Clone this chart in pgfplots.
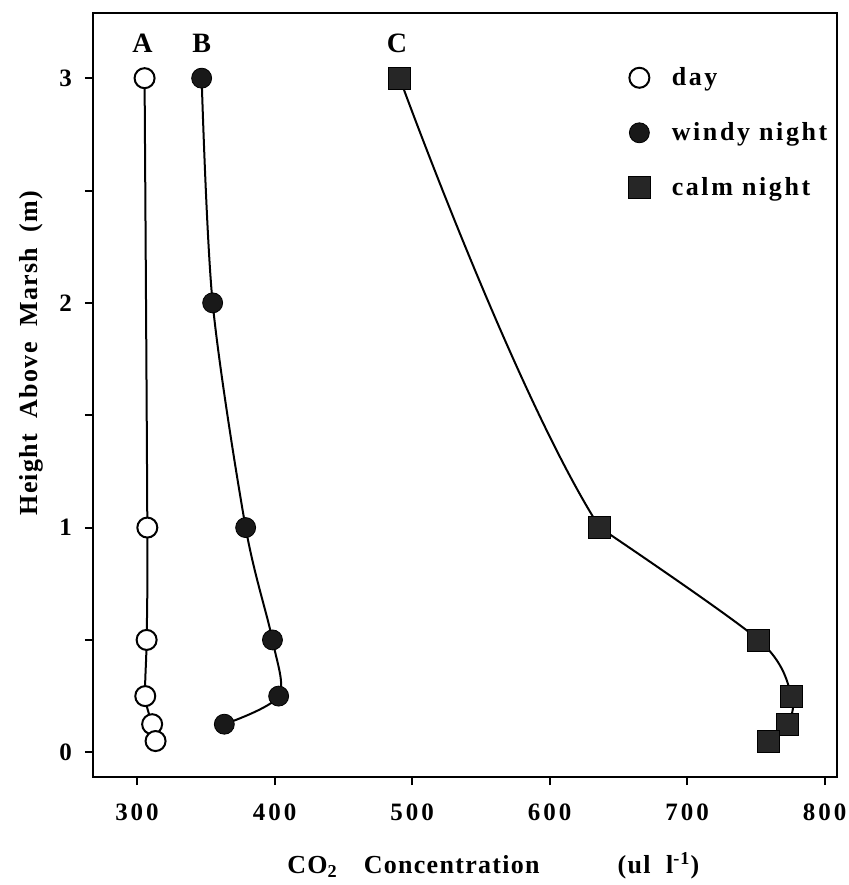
\documentclass[border=0pt]{standalone}
\usepackage{fontspec}
\setmainfont{Liberation Serif}[LetterSpace=5]
\usepackage{pgfplots}
\pgfplotsset{compat=1.18}
\pgfplotsset{
  markonly/.style={only marks,
    legend image code/.code={\draw[mark repeat=2, mark phase=2, ##1] plot coordinates {(0cm,0cm) (0.3cm,0cm) (0.6cm,0cm)};
      \path (0.3cm,0cm) ++(14pt,0pt);}},
}

\begin{document}
\begin{tikzpicture}[font=\bfseries]
\path[use as bounding box] (-46.5pt,-54pt) rectangle (377.5pt,388.5pt);
\begin{axis}[
  at={(0,0)}, anchor=south west,
  width=372pt, height=382pt, scale only axis,
  xmin=268, xmax=809, ymin=-0.11, ymax=3.29,
  xtick={300,400,...,800},
  ytick={0,0.5,...,3},
  yticklabels={0,{},1,{},2,{},3},
  xtick pos=bottom, ytick pos=left,
  tick align=outside, major tick length=4pt,
  axis line style={line width=1.3pt},
  tick style={line width=1pt, black},
  /pgf/number format/assume math mode=true,
  tick label style={font=\fontsize{12.5}{15}\selectfont\bfseries\addfontfeature{LetterSpace=12}},
  xticklabel style={yshift=-6pt},
  yticklabel style={xshift=-3pt},
  xlabel={CO\textsubscript{2}\quad Concentration\qquad\quad (ul\ \ l\textsuperscript{-1})},
  xlabel style={at={(axis description cs:0.538,-0.1165)}, anchor=center, font=\fontsize{13}{15}\selectfont\bfseries},
  ylabel={Height\ \ Above\ \ Marsh\ \ (m)},
  ylabel style={at={(axis description cs:-0.083,0.555)}, anchor=center, font=\fontsize{13}{15}\selectfont\bfseries},
  legend style={draw=none, fill=none, at={(0.711,0.94)}, anchor=north west,
    row sep=13pt, font=\fontsize{13}{15}\selectfont\bfseries\addfontfeature{LetterSpace=10}},
  legend cell align=left,
]
% connecting curves
\addplot[black, line width=1pt, smooth, forget plot] coordinates {
  (305.5,3) (307.5,1) (307,0.5) (306,0.25) (311,0.125) (313.5,0.05)
};
\addplot[black, line width=1pt, smooth, forget plot] coordinates {
  (347,3) (355,2) (379,1) (398.5,0.5) (403,0.25) (363.5,0.125)
};
% calm night: upper part (above 1 m) and lower part drawn separately
\begin{scope}
\clip (axis cs:268,1) rectangle (axis cs:809,3.29);
\addplot[black, line width=1pt, smooth, tension=0.85, forget plot] coordinates {
  (491,3) (636.5,1) (752,0.5)
};
\end{scope}
\addplot[black, line width=1pt, smooth, forget plot] coordinates {
  (636.5,1) (752,0.5) (776,0.25) (773,0.125) (759,0.05)
};
% markers
\addplot[markonly, mark=*, mark size=5pt, mark options={fill=white, draw=black, line width=1pt}] coordinates {
  (305.5,3) (307.5,1) (307,0.5) (306,0.25) (311,0.125) (313.5,0.05)
};
\addlegendentry{day}
\addplot[markonly, mark=*, mark size=5pt, mark options={fill=black!90, draw=black}] coordinates {
  (347,3) (355,2) (379,1) (398.5,0.5) (403,0.25) (363.5,0.125)
};
\addlegendentry{windy night}
\addplot[markonly, mark=square*, mark size=5.5pt, mark options={fill=black!85, draw=black}] coordinates {
  (491,3) (636.5,1) (752,0.5) (776,0.25) (773,0.125) (759,0.05)
};
\addlegendentry{calm night}
\node[font=\fontsize{14}{16}\selectfont\bfseries] at (axis cs:304,3.156) {A};
\node[font=\fontsize{14}{16}\selectfont\bfseries] at (axis cs:347,3.156) {B};
\node[font=\fontsize{14}{16}\selectfont\bfseries] at (axis cs:489,3.156) {C};
\end{axis}
\end{tikzpicture}
\end{document}
